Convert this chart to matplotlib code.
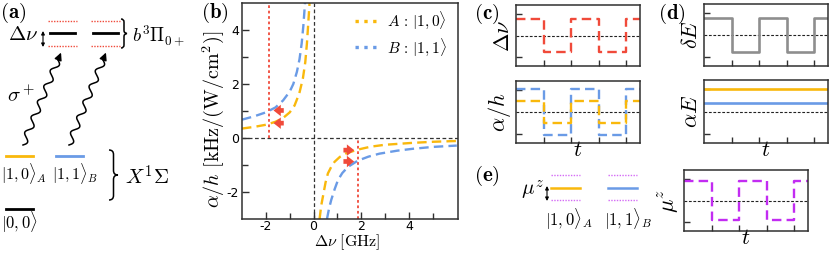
import numpy as np
import matplotlib
matplotlib.use('Agg')
import matplotlib.pyplot as plt
from matplotlib.lines import Line2D
from matplotlib.path import Path
from matplotlib.patches import PathPatch

plt.rcParams['mathtext.fontset'] = 'cm'
plt.rcParams['axes.unicode_minus'] = False
plt.rcParams['font.size'] = 8

orange = '#f9b80c'
blue = '#6a9be6'
red = '#f04a3a'
purple = '#c22cf2'
grey = '#8e8e8e'
spine_c = '#303030'

# panel (b): polarisability branches
A_left_nu = [-3.0, -2.5, -2.0, -1.6, -1.28, -1.0, -0.8, -0.6, -0.45, -0.35, -0.28, -0.22, -0.17]
A_left_alpha = [0.35, 0.41, 0.49, 0.60, 0.74, 0.95, 1.2, 1.65, 2.2, 2.8, 3.5, 4.3, 5.0]
B_left_nu = [-3.0, -2.5, -2.0, -1.6, -1.28, -1.0, -0.85, -0.7, -0.59, -0.5, -0.43, -0.36]
B_left_alpha = [0.68, 0.80, 0.95, 1.13, 1.39, 1.72, 2.0, 2.45, 2.92, 3.5, 4.15, 5.0]
A_right_nu = [0.25, 0.32, 0.39, 0.5, 0.6, 0.75, 0.88, 1.1, 1.36, 1.85, 2.4, 3.0, 4.15, 5.0, 6.0]
A_right_alpha = [-3.0, -2.5, -2.17, -1.65, -1.31, -1.05, -0.88, -0.7, -0.57, -0.43, -0.32, -0.25, -0.18, -0.14, -0.11]
B_right_nu = [0.56, 0.65, 0.74, 0.88, 1.02, 1.2, 1.44, 1.85, 2.3, 2.76, 3.5, 4.15, 5.0, 6.0]
B_right_alpha = [-3.0, -2.6, -2.29, -1.9, -1.56, -1.3, -1.07, -0.84, -0.69, -0.58, -0.47, -0.40, -0.33, -0.28]
nu_drive = [-1.85, 1.85]
arrow_tail_nu = [-1.25, -1.25, 1.25, 1.25]
arrow_head_nu = [-1.68, -1.68, 1.7, 1.7]
arrow_alpha = [1.02, 0.55, -0.45, -0.87]

# panels (c)-(e): switching sequences
t_sw = [0, 1, 2, 3, 4, 4.5]
dnu_wave = [0.75, -0.75, 0.75, -0.75, 0.75, 0.75]
alphaA_wave = [0.5, -0.5, 0.5, -0.5, 0.5, 0.5]
alphaB_wave = [1.02, -1.02, 1.02, -1.02, 1.02, 1.02]
dE_wave = [0.75, -0.75, 0.75, -0.75, 0.75, 0.75]
t_const = [0, 4.5]
alphaE_A = [1.0, 1.0]
alphaE_B = [0.4, 0.4]
mu_wave = [0.9, -0.9, 0.9, -0.9, 0.9, 0.9]

fig = plt.figure(figsize=(8.3, 2.54), dpi=100)
W, H = 830.0, 254.0


def px_axes(l, t, r, b):
    return fig.add_axes([l / W, 1 - b / H, (r - l) / W, (b - t) / H])


def style(ax):
    for s in ax.spines.values():
        s.set_linewidth(1.1)
        s.set_color(spine_c)
    ax.tick_params(which='both', direction='in', color=spine_c, width=1.0)
    ax.tick_params(which='major', length=5)
    ax.tick_params(which='minor', length=4)


# ---- panel (b)
axb = px_axes(242, 3, 458, 219)
style(axb)
dash = (0, (4, 2.2))
axb.plot(A_left_nu, A_left_alpha, color=orange, lw=1.7, ls=dash)
axb.plot(A_right_nu, A_right_alpha, color=orange, lw=1.7, ls=dash)
axb.plot(B_left_nu, B_left_alpha, color=blue, lw=1.7, ls=dash)
axb.plot(B_right_nu, B_right_alpha, color=blue, lw=1.7, ls=dash)
axb.axhline(0, color='#333333', lw=0.9, ls=(0, (3, 2)))
axb.axvline(0, color='#333333', lw=0.9, ls=(0, (3, 2)))
axb.vlines(nu_drive[0], 0, 5, color=red, lw=1.3, ls=(0, (1.5, 1.5)))
axb.vlines(nu_drive[1], -3, 0, color=red, lw=1.3, ls=(0, (1.5, 1.5)))
for x0, x1, y in zip(arrow_tail_nu, arrow_head_nu, arrow_alpha):
    axb.annotate('', xy=(x1, y), xytext=(x0, y),
                 arrowprops=dict(arrowstyle='simple,head_length=0.7,head_width=1.1,tail_width=0.45',
                                 fc=red, ec='none', lw=0, mutation_scale=7.5,
                                 shrinkA=0, shrinkB=0))
axb.set_xlim(-3, 6.05)
axb.set_ylim(-3, 5)
axb.set_xticks([-2, 0, 2, 4])
axb.set_xticks([-1, 1, 3, 5], minor=True)
axb.set_yticks([-2, 0, 2, 4])
axb.set_yticks([-1, 1, 3], minor=True)
axb.tick_params(labelsize=9, pad=2)
axb.tick_params(axis='x', pad=1)
axb.set_xlabel(r'$\Delta\nu\ [\mathrm{GHz}]$', fontsize=11.5)
axb.xaxis.set_label_coords(0.487, -0.064)
axb.set_ylabel(r'$\alpha/h\ [\mathrm{kHz}/(\mathrm{W}/\mathrm{cm}^2)]$', fontsize=14.5)
axb.yaxis.set_label_coords(-0.075, 0.46)
handles = [Line2D([], [], color=orange, lw=2.4, ls=':'),
           Line2D([], [], color=blue, lw=2.4, ls=':')]
axb.legend(handles, [r'$A\,:\,|1,0\rangle$', r'$B\,:\,|1,1\rangle$'], loc='upper left',
           bbox_to_anchor=(0.5, 0.99), frameon=False, fontsize=11, handlelength=1.7,
           handletextpad=0.4, borderaxespad=0, borderpad=0.3, labelspacing=0.35)


def small(l, t, r, b):
    ax = px_axes(l, t, r, b)
    style(ax)
    ax.set_xlim(0, 4.5)
    ax.set_ylim(-1.4, 1.4)
    ax.set_xticks([1, 2, 3, 4])
    ax.set_yticks([-1, 1])
    ax.tick_params(labelbottom=False, labelleft=False, length=4)
    ax.axhline(0, color='#222222', lw=0.8, ls=(0, (2.5, 1.5)))
    return ax


# ---- panel (c)
axc1 = small(516, 5, 640, 66)
axc1.plot(t_sw, dnu_wave, drawstyle='steps-post', color=red, lw=1.7, ls=dash)
axc1.set_ylabel(r'$\Delta\nu$', fontsize=16, labelpad=2)
axc2 = small(516, 81, 640, 143)
axc2.plot(t_sw, alphaB_wave, drawstyle='steps-post', color=blue, lw=1.7, ls=dash)
axc2.plot(t_sw, alphaA_wave, drawstyle='steps-post', color=orange, lw=1.7, ls=dash)
axc2.set_ylabel(r'$\alpha/h$', fontsize=16, labelpad=2)
axc2.set_xlabel(r'$t$', fontsize=16, labelpad=-2)

# ---- panel (d)
axd1 = small(704, 4, 828, 66)
axd1.plot(t_sw, dE_wave, drawstyle='steps-post', color=grey, lw=1.9)
axd1.set_ylabel(r'$\delta E$', fontsize=16, labelpad=2)
axd2 = small(704, 80, 828, 143)
axd2.plot(t_const, alphaE_A, color=orange, lw=1.9)
axd2.plot(t_const, alphaE_B, color=blue, lw=1.9)
axd2.set_ylabel(r'$\alpha E$', fontsize=16, labelpad=2)
axd2.set_xlabel(r'$t$', fontsize=16, labelpad=-2)

# ---- panel (e) plot
axe = small(684, 170, 808, 231)
axe.plot(t_sw, mu_wave, drawstyle='steps-post', color=purple, lw=1.7, ls=dash)
axe.set_ylabel(r'$\mu^z$', fontsize=16, labelpad=2)
axe.set_xlabel(r'$t$', fontsize=16, labelpad=-2)

# ---- diagrams (a) and (e), pixel coordinates
ov = fig.add_axes([0, 0, 1, 1], facecolor='none')
ov.set_xlim(0, W)
ov.set_ylim(H, 0)
ov.axis('off')


def brace(x0, y1, y2, w):
    ym = 0.5 * (y1 + y2)
    xm = x0 + w / 2
    r = w / 2
    verts = [(x0, y1), (xm, y1), (xm, y1 + r), (xm, ym - r), (xm, ym), (x0 + w, ym),
             (xm, ym), (xm, ym + r), (xm, y2 - r), (xm, y2), (x0, y2)]
    codes = [Path.MOVETO, Path.CURVE3, Path.CURVE3, Path.LINETO, Path.CURVE3, Path.CURVE3,
             Path.CURVE3, Path.CURVE3, Path.LINETO, Path.CURVE3, Path.CURVE3]
    ov.add_patch(PathPatch(Path(verts, codes), fc='none', ec='black', lw=1.1))


def wavy(p0, p1, n=5.5, amp=3.2):
    p0 = np.array(p0, float)
    p1 = np.array(p1, float)
    d = p1 - p0
    L = np.hypot(*d)
    nrm = np.array([-d[1], d[0]]) / L
    s = np.linspace(0, 1, 300)
    pts = p0[None, :] + s[:, None] * d[None, :] + (amp * np.sin(2 * np.pi * n * s))[:, None] * nrm[None, :]
    ov.plot(pts[:, 0], pts[:, 1], color='black', lw=1.1)
    ov.annotate('', xy=p1 + d / L * 8, xytext=p1,
                arrowprops=dict(arrowstyle='-|>', color='black', lw=1.0,
                                mutation_scale=11, shrinkA=0, shrinkB=0))


lab = dict(fontsize=15, va='center', ha='left')
ov.text(0, 13, r'$\mathbf{(a)}$', **lab)
ov.text(201, 13, r'$\mathbf{(b)}$', **lab)
ov.text(474, 14, r'$\mathbf{(c)}$', **lab)
ov.text(658, 14, r'$\mathbf{(d)}$', **lab)
ov.text(474, 176, r'$\mathbf{(e)}$', **lab)

# excited manifold
for xa, xb in [(50, 75), (93, 118)]:
    ov.plot([xa, xb], [33, 33], color='black', lw=2)
    ov.plot([xa - 2, xb + 2], [21, 21], color=red, lw=1.0, ls=(0, (1, 1)))
    ov.plot([xa - 2, xb + 2], [46, 46], color=red, lw=1.0, ls=(0, (1, 1)))
ov.annotate('', xy=(43, 31), xytext=(43, 47),
            arrowprops=dict(arrowstyle='<|-|>', color='black', lw=0.8,
                            mutation_scale=5, shrinkA=0, shrinkB=0))
ov.text(23, 34, r'$\Delta\nu$', fontsize=15, ha='center', va='center')
brace(121, 19, 48, 6)
ov.text(132, 36, r'$b^3\Pi_{0+}$', fontsize=13.5, ha='left', va='center')

# drive
ov.text(21, 95, r'$\sigma^+$', fontsize=15, ha='center', va='center')
wavy((23, 145), (58, 60))
wavy((69, 145), (103, 60))

# ground manifold
ov.plot([6, 33], [156, 156], color=orange, lw=2)
ov.plot([56, 83], [156, 156], color=blue, lw=2)
ov.text(24, 174, r'$|1,0\rangle_A$', fontsize=11.5, ha='center', va='center')
ov.text(75, 174, r'$|1,1\rangle_B$', fontsize=11.5, ha='center', va='center')
brace(109, 150, 200, 9)
ov.text(125, 177, r'$X^1\Sigma$', fontsize=15, ha='left', va='center')
ov.plot([6, 33], [209, 209], color='black', lw=2)
ov.text(20, 222, r'$|0,0\rangle$', fontsize=12, ha='center', va='center')

# (e) diagram
for xa, xb, c in [(551, 580, orange), (608, 637, blue)]:
    ov.plot([xa, xb], [188, 188], color=c, lw=1.8)
    ov.plot([xa, xb], [175, 175], color=purple, lw=1.0, ls=(0, (1, 1)), alpha=0.7)
    ov.plot([xa, xb], [200, 200], color=purple, lw=1.0, ls=(0, (1, 1)), alpha=0.7)
ov.annotate('', xy=(547, 186), xytext=(547, 201),
            arrowprops=dict(arrowstyle='<|-|>', color='black', lw=0.8,
                            mutation_scale=5, shrinkA=0, shrinkB=0))
ov.text(532, 190, r'$\mu^z$', fontsize=15, ha='center', va='center')
ov.text(569, 219, r'$|1,0\rangle_A$', fontsize=12, ha='center', va='center')
ov.text(628, 219, r'$|1,1\rangle_B$', fontsize=12, ha='center', va='center')

fig.savefig('out.png', dpi=100)
